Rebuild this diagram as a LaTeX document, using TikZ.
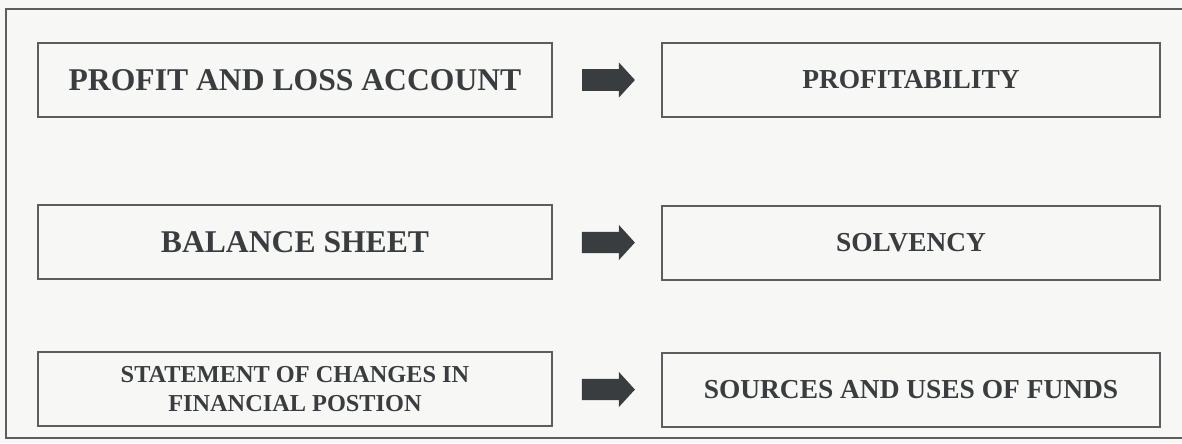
\documentclass[tikz,border=0pt]{standalone}
\usepackage{fontspec}
\setmainfont{Liberation Serif}
\usetikzlibrary{arrows.meta}
\definecolor{ink}{HTML}{3A3D40}
\definecolor{rule}{HTML}{5A5E60}
\definecolor{paper}{HTML}{F7F7F5}
\tikzset{
  leftbox/.style={draw=rule,line width=1.4pt,minimum width=12.85cm,minimum height=1.85cm,
    text=ink,font=\fontsize{22.5}{24}\selectfont\bfseries,align=center},
  rightbox/.style={leftbox,minimum width=12.45cm,font=\fontsize{19.5}{22}\selectfont\bfseries},
  smalltext/.style={font=\fontsize{17.3}{21}\selectfont\bfseries},
  blockarrow/.style={draw=ink,line width=15pt,-{Triangle[width=0.85cm,length=0.4cm]},
    shorten <=0.72cm,shorten >=0.65cm}
}
\begin{document}
\begin{tikzpicture}[x=0.025cm,y=-0.025cm]
 \fill[paper] (0,0) rectangle (1182,443);
 \useasboundingbox (0,0) rectangle (1182,443);
 \draw[rule,line width=1.3pt] (1182,9)--(6,9)--(6,438)--(1182,438);
 % left column
 \node[leftbox] (pl) at (295,80) {PROFIT AND LOSS ACCOUNT};
 \node[leftbox] (bs) at (295,242) {BALANCE SHEET};
 \node[leftbox,smalltext] (sc) at (295,389) {STATEMENT OF CHANGES IN\\FINANCIAL POSTION};
 % right column
 \node[rightbox] (pr) at (911,80) {PROFITABILITY};
 \node[rightbox] (sv) at (911,243) {SOLVENCY};
 \node[rightbox] (su) at (911,390) {SOURCES AND USES OF FUNDS};
 % arrows
 \draw[blockarrow] (pl) -- (pr);
 \draw[blockarrow] (bs) -- (sv);
 \draw[blockarrow] (sc) -- (su);
\end{tikzpicture}
\end{document}
